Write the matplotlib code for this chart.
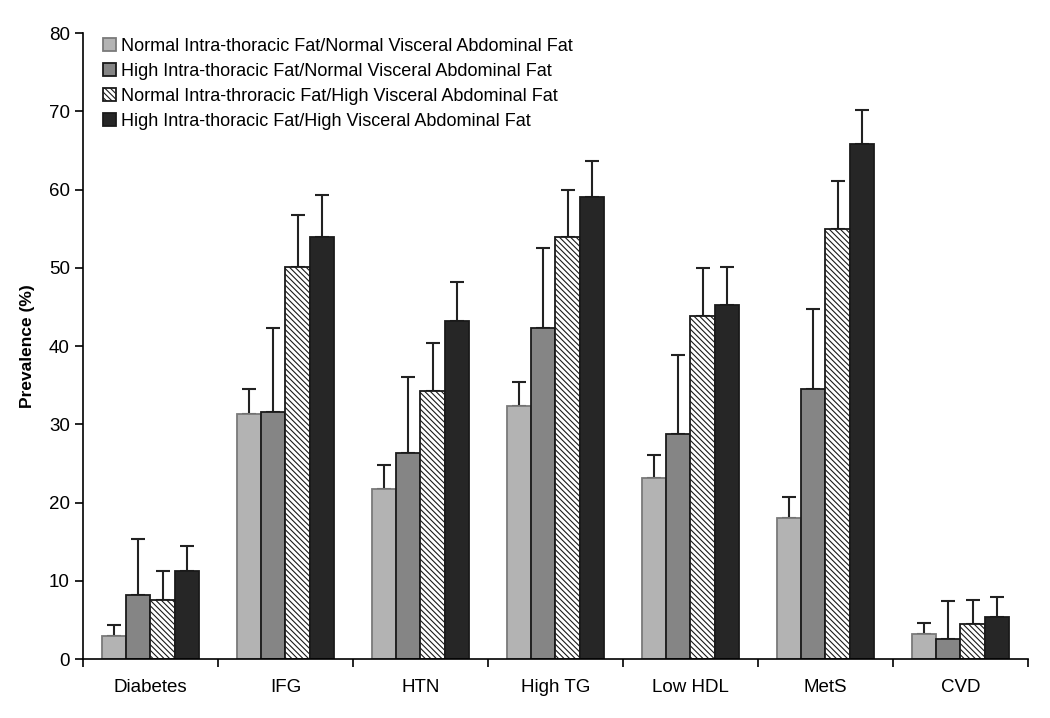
import numpy as np
import matplotlib.pyplot as plt

categories = ['Diabetes', 'IFG', 'HTN', 'High TG', 'Low HDL', 'MetS', 'CVD']
series_names = ['Normal Intra-thoracic Fat/Normal Visceral Abdominal Fat',
                'High Intra-thoracic Fat/Normal Visceral Abdominal Fat',
                'Normal Intra-throracic Fat/High Visceral Abdominal Fat',
                'High Intra-thoracic Fat/High Visceral Abdominal Fat']

# prevalence (%) per group
nn = [2.9, 31.3, 21.8, 32.3, 23.2, 18.0, 3.2]
hn = [8.2, 31.6, 26.3, 42.3, 28.8, 34.5, 2.6]
nh = [7.5, 50.1, 34.3, 53.9, 43.8, 55.0, 4.5]
hh = [11.2, 54.0, 43.2, 59.0, 45.2, 65.8, 5.4]

# top of the upper error bar
nn_hi = [4.3, 34.5, 24.8, 35.4, 26.1, 20.7, 4.6]
hn_hi = [15.3, 42.3, 36.1, 52.5, 38.8, 44.7, 7.4]
nh_hi = [11.3, 56.7, 40.4, 60.0, 50.0, 61.1, 7.5]
hh_hi = [14.5, 59.3, 48.2, 63.7, 50.1, 70.2, 7.9]

values = [nn, hn, nh, hh]
uppers = [nn_hi, hn_hi, nh_hi, hh_hi]
colors = ['#b3b3b3', '#858585', 'white', '#262626']
edges = ['#7a7a7a', '#1a1a1a', '#1a1a1a', '#1a1a1a']
hatches = [None, None, '\\' * 6, None]

plt.rcParams['font.family'] = ['Liberation Sans', 'DejaVu Sans']
plt.rcParams['hatch.color'] = '#6a6a6a'
plt.rcParams['hatch.linewidth'] = 0.8

fig = plt.figure(figsize=(10.5, 7.18), dpi=100)
ax = fig.add_axes([0.079, 0.082, 0.900, 0.872])

x = np.arange(len(categories))
w = 0.18
for i in range(4):
    v = np.array(values[i])
    err = np.array(uppers[i]) - v
    pos = x + (i - 1.5) * w
    ax.bar(pos, v, width=w, color=colors[i], edgecolor=edges[i], linewidth=1.3,
           hatch=hatches[i], label=series_names[i], zorder=2)
    ax.errorbar(pos, v, yerr=[np.zeros(len(v)), err], fmt='none', ecolor='#222222',
                elinewidth=1.5, capsize=5, capthick=1.5, zorder=1)

ax.set_xlim(-0.5, len(categories) - 0.5)
ax.set_ylim(0, 80)
ax.set_yticks(range(0, 81, 10))
ax.set_xticks(x)
ax.set_xticklabels(categories, fontsize=13.5)
ax.set_xticks(np.arange(-0.5, len(categories)), minor=True)
ax.tick_params(axis='x', which='major', length=0, pad=14)
ax.tick_params(axis='x', which='minor', length=6, width=1.2, direction='out')
ax.tick_params(axis='y', labelsize=13.5, length=6, width=1.2, direction='out')
ax.set_ylabel('Prevalence (%)', fontsize=12.5, fontweight='bold', labelpad=10)
for s in ['top', 'right']:
    ax.spines[s].set_visible(False)
for s in ['left', 'bottom']:
    ax.spines[s].set_linewidth(1.2)

ax.legend(loc='upper left', bbox_to_anchor=(0.01, 1.01), frameon=False, fontsize=13,
          handlelength=0.7, handleheight=0.7, handletextpad=0.3, labelspacing=0.45,
          borderaxespad=0.2)

fig.savefig('out.png')
